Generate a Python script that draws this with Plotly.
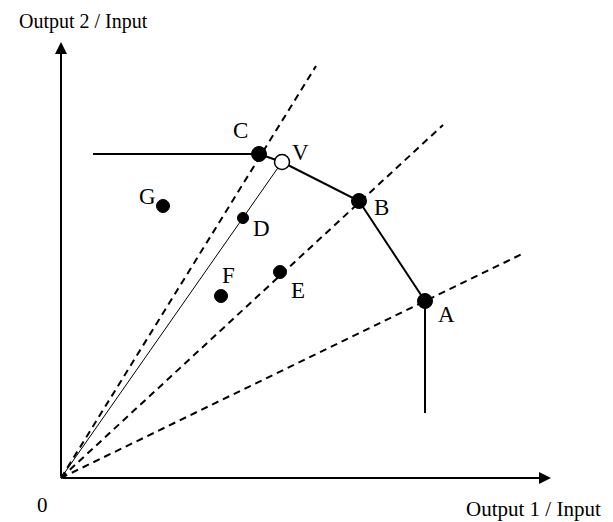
import plotly.graph_objects as go

# DMUs: output1/input (x) and output2/input (y)
units = ['A', 'B', 'C', 'D', 'E', 'F', 'G']
out1 = [36.4, 29.8, 19.8, 18.2, 21.9, 16.0, 10.2]
out2 = [17.7, 27.7, 32.4, 26.0, 20.6, 18.2, 27.2]
sizes = [15, 15, 15, 11, 13, 13, 13]

# virtual unit on the frontier
v_x, v_y = 22.1, 31.6

# efficient frontier (C - V - B - A) plus the horizontal/vertical extensions
front_x = [3.2, 19.8, 22.1, 29.8, 36.4, 36.4]
front_y = [32.4, 32.4, 31.6, 27.7, 17.7, 6.5]

# rays from the origin (dashed), end points
ray_end_x = [25.5, 38.2, 46.1]
ray_end_y = [41.2, 35.3, 22.4]

# label offsets in pixels (x, y)
lbl_pos = {'A': (21, -13), 'B': (22, -6), 'C': (-19, 24), 'D': (18, -10),
           'E': (18, -18), 'F': (7, 21), 'G': (-16, 10)}

font = 'Liberation Serif'

fig = go.Figure()

for ex, ey in zip(ray_end_x, ray_end_y):
    fig.add_trace(go.Scatter(x=[0, ex], y=[0, ey], mode='lines',
                             line=dict(color='black', width=2, dash='7px,5px')))

# thin solid ray through D to V
fig.add_trace(go.Scatter(x=[0, v_x], y=[0, v_y], mode='lines',
                         line=dict(color='black', width=1)))

fig.add_trace(go.Scatter(x=front_x, y=front_y, mode='lines',
                         line=dict(color='black', width=2)))

fig.add_trace(go.Scatter(x=out1, y=out2, mode='markers',
                         marker=dict(color='black', size=sizes, opacity=1,
                                     line=dict(color='black', width=1))))

fig.add_trace(go.Scatter(x=[v_x], y=[v_y], mode='markers',
                         marker=dict(color='white', size=15, opacity=1,
                                     line=dict(color='black', width=1.5))))

for u, x, y in zip(units, out1, out2):
    dx, dy = lbl_pos[u]
    fig.add_annotation(x=x, y=y, text=u, showarrow=False, xshift=dx, yshift=dy,
                       font=dict(family=font, size=23, color='black'))
fig.add_annotation(x=v_x, y=v_y, text='V', showarrow=False, xshift=18, yshift=10,
                   font=dict(family=font, size=23, color='black'))

# axes with arrow heads
fig.add_annotation(x=49.0, y=0, ax=0, ay=0, xref='x', yref='y', axref='x', ayref='y',
                   showarrow=True, arrowhead=2, arrowsize=1.2, arrowwidth=2,
                   arrowcolor='black', text='')
fig.add_annotation(x=0, y=43.6, ax=0, ay=0, xref='x', yref='y', axref='x', ayref='y',
                   showarrow=True, arrowhead=2, arrowsize=1.2, arrowwidth=2,
                   arrowcolor='black', text='')

fig.add_annotation(x=0, y=43.6, text='Output 2 / Input', showarrow=False,
                   xshift=22, yshift=21, font=dict(family=font, size=20, color='black'))
fig.add_annotation(x=47.2, y=0, text='Output 1 / Input', showarrow=False,
                   yshift=-31, font=dict(family=font, size=21, color='black'))
fig.add_annotation(x=0, y=0, text='0', showarrow=False, xshift=-19, yshift=-27,
                   font=dict(family=font, size=21, color='black'))

# page has an 8px body margin, so the figure is a bit smaller than the window
fig.update_layout(
    width=605, height=514,
    margin=dict(l=0, r=0, t=0, b=0),
    plot_bgcolor='white', paper_bgcolor='white',
    showlegend=False,
)
fig.update_xaxes(range=[-5.3, 55.2], visible=False)
fig.update_yaxes(range=[-4.4, 47.0], visible=False)

fig.write_html('out.html')
